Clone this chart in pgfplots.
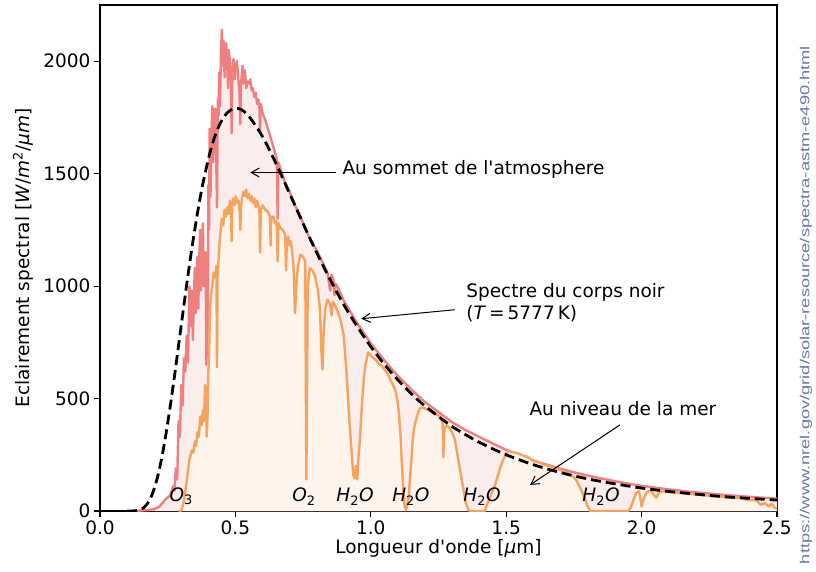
\documentclass[border=0pt]{standalone}
\usepackage{fontspec}
\setmainfont{DejaVu Sans}[Ligatures=TeXOff]
\newfontfamily\urlfont{Liberation Sans}
\usepackage{graphicx}
\usepackage{pgfplots}
\pgfplotsset{compat=1.18}
\usepackage{pgfplotstable}
\usetikzlibrary{arrows.meta}

\definecolor{redline}{HTML}{F08080}
\definecolor{redfill}{HTML}{FCEDED}
\definecolor{orline}{HTML}{F4A460}
\definecolor{orfill}{HTML}{FEF4EB}
\definecolor{urlcol}{HTML}{6478AE}

\pgfplotstableread{
x y
0.120 0
0.150 2
0.180 5
0.200 8
0.220 20
0.240 50
0.250 60
0.260 70
0.270 110
0.275 90
0.280 190
0.285 140
0.290 400
0.295 330
0.300 560
0.305 470
0.310 680
0.315 620
0.320 780
0.325 660
0.330 1000
0.333 820
0.336 950
0.340 980
0.343 760
0.346 900
0.350 1080
0.353 880
0.356 1040
0.360 1130
0.363 900
0.366 1100
0.370 1250
0.373 980
0.376 1150
0.380 1280
0.383 1000
0.386 1150
0.390 1150
0.393 650
0.396 900
0.398 700
0.400 1450
0.403 1250
0.405 1700
0.408 1400
0.410 1550
0.413 1720
0.415 1800
0.418 1550
0.420 1720
0.423 1640
0.425 1790
0.428 1700
0.430 1500
0.432 1350
0.435 1830
0.438 1760
0.440 1950
0.443 1800
0.447 2050
0.450 2140
0.453 1980
0.457 2090
0.460 1930
0.462 2000
0.466 2080
0.470 1980
0.473 1880
0.475 2050
0.480 2000
0.484 1900
0.486 1680
0.489 1950
0.493 2010
0.497 1920
0.500 1960
0.505 2000
0.510 1940
0.515 1860
0.518 1720
0.521 1900
0.526 1980
0.530 1900
0.535 1960
0.540 1880
0.545 1910
0.550 1900
0.555 1920
0.560 1870
0.565 1880
0.570 1840
0.575 1860
0.580 1810
0.585 1830
0.589 1790
0.591 1680
0.594 1810
0.600 1770
0.610 1740
0.620 1700
0.630 1660
0.640 1620
0.650 1580
0.653 1560
0.656 1300
0.659 1550
0.670 1510
0.680 1470
0.700 1420
0.720 1360
0.740 1310
0.760 1250
0.780 1200
0.800 1160
0.820 1110
0.840 1060
0.850 980
0.855 1050
0.862 1030
0.866 960
0.870 1010
0.880 990
0.900 935
0.920 895
0.940 855
0.950 835
0.970 800
1.000 745
1.050 670
1.100 600
1.150 540
1.200 485
1.250 440
1.300 395
1.350 360
1.400 330
1.450 300
1.500 272
1.550 248
1.600 225
1.650 206
1.700 188
1.750 172
1.800 158
1.850 145
1.900 133
1.950 122
2.000 112
2.100 96
2.200 83
2.300 72
2.400 63
2.500 55
}\redtab

\pgfplotstableread{
x y
0.290 0
0.300 3
0.305 20
0.310 45
0.315 90
0.320 130
0.325 180
0.330 230
0.335 250
0.340 270
0.345 260
0.350 310
0.355 290
0.360 350
0.365 330
0.370 420
0.375 380
0.380 450
0.384 400
0.388 560
0.392 520
0.394 330
0.397 420
0.400 620
0.403 700
0.406 900
0.410 960
0.415 1000
0.420 1060
0.425 1040
0.430 1090
0.432 640
0.434 1050
0.438 1120
0.442 1200
0.446 1250
0.450 1300
0.455 1270
0.460 1340
0.465 1310
0.470 1350
0.475 1320
0.480 1380
0.484 1330
0.486 1200
0.488 1350
0.492 1390
0.497 1360
0.502 1400
0.507 1370
0.512 1380
0.516 1330
0.518 1250
0.521 1360
0.526 1400
0.530 1420
0.535 1400
0.540 1430
0.545 1390
0.550 1410
0.555 1380
0.560 1400
0.565 1370
0.570 1390
0.575 1350
0.580 1380
0.585 1360
0.589 1320
0.591 1150
0.594 1340
0.600 1360
0.610 1340
0.620 1330
0.628 1310
0.630 1180
0.632 1300
0.640 1310
0.645 1280
0.650 1290
0.653 1270
0.656 1110
0.659 1280
0.665 1260
0.675 1250
0.684 1230
0.687 1070
0.690 1200
0.695 1220
0.700 1180
0.705 1200
0.710 1150
0.715 1080
0.720 880
0.725 1000
0.730 1080
0.740 1140
0.750 1130
0.758 1110
0.760 600
0.762 140
0.764 450
0.767 1000
0.775 1080
0.785 1070
0.795 1040
0.805 980
0.812 900
0.818 700
0.822 630
0.826 800
0.832 900
0.840 940
0.850 920
0.855 870
0.860 930
0.870 910
0.880 880
0.890 840
0.900 780
0.905 700
0.910 620
0.915 520
0.920 420
0.925 330
0.930 250
0.935 160
0.940 145
0.945 200
0.950 140
0.955 250
0.960 320
0.965 430
0.970 520
0.975 600
0.980 650
0.990 705
1.000 690
1.010 680
1.020 670
1.030 655
1.040 645
1.050 630
1.060 615
1.070 590
1.080 565
1.090 540
1.100 480
1.105 420
1.110 330
1.115 200
1.120 90
1.125 20
1.130 5
1.135 30
1.140 60
1.145 150
1.150 230
1.155 320
1.160 370
1.170 420
1.180 455
1.190 460
1.200 455
1.210 450
1.220 445
1.230 440
1.240 430
1.250 425
1.260 410
1.265 390
1.268 240
1.272 370
1.280 380
1.290 370
1.300 350
1.310 320
1.320 250
1.330 180
1.340 110
1.350 40
1.360 5
1.370 0
1.420 0
1.430 30
1.440 60
1.450 90
1.460 120
1.470 160
1.480 200
1.490 230
1.500 255
1.510 268
1.520 262
1.540 258
1.560 248
1.580 240
1.600 222
1.620 216
1.640 206
1.660 200
1.680 190
1.700 182
1.720 172
1.740 160
1.750 150
1.760 135
1.770 110
1.780 85
1.790 55
1.800 25
1.810 0
1.950 0
1.960 15
1.970 50
1.980 80
1.990 88
1.995 60
2.000 20
2.008 55
2.020 85
2.035 92
2.045 70
2.055 60
2.065 85
2.080 88
2.100 84
2.150 80
2.200 74
2.250 68
2.300 63
2.330 58
2.360 60
2.380 52
2.400 48
2.420 50
2.430 40
2.440 28
2.455 35
2.470 20
2.480 32
2.490 15
2.500 10
}\ortab

\pgfplotstableread{
x y
0.10 0
0.12 0.3
0.13 1
0.14 3
0.15 6.5
0.16 13
0.17 25
0.18 42
0.19 66
0.20 99
0.21 140
0.22 190
0.23 249
0.24 316
0.25 391
0.26 471
0.27 556
0.28 644
0.29 735
0.30 826
0.31 916
0.32 1006
0.33 1091
0.34 1174
0.35 1251
0.36 1325
0.37 1394
0.38 1456
0.40 1564
0.42 1651
0.44 1714
0.46 1757
0.48 1781
0.50 1790
0.52 1786
0.55 1755
0.60 1665
0.65 1545
0.70 1412
0.75 1278
0.80 1149
0.85 1029
0.90 918
0.95 820
1.00 731
1.05 652
1.10 583
1.15 521
1.20 467
1.30 376
1.40 306
1.50 250
1.60 206
1.70 171
1.80 143
1.90 121
2.00 102
2.10 87
2.20 75
2.30 64
2.40 56
2.50 48.5
}\bbtab

\begin{document}
\begin{tikzpicture}[font=\fontsize{18.5}{22}\selectfont]
\path[use as bounding box] (-100pt,-60pt) rectangle (716pt,511pt);
\begin{axis}[
  at={(0pt,0pt)}, anchor=south west,
  scale only axis, width=677pt, height=506pt,
  xmin=0, xmax=2.5, ymin=0, ymax=2250,
  xtick={0,0.5,1,1.5,2,2.5},
  xticklabels={0.0,0.5,1.0,1.5,2.0,2.5},
  ytick={0,500,1000,1500,2000},
  yticklabels={0,500,1000,1500,2000},
  tick pos=left, tick align=outside,
  major tick length=6pt,
  axis line style={line width=1.1pt},
  major tick style={line width=1.1pt, black},
  tick label style={font=\fontsize{18.5}{22}\selectfont},
  /pgf/number format/assume math mode=true,
  xlabel={Longueur d'onde [\textit{μ}m]},
  ylabel={Eclairement spectral [\textit{W}/\textit{m}\textsuperscript{2}/\textit{μm}]},
  xlabel style={at={(axis description cs:0.5,0)}, anchor=center, yshift=-37pt, font=\fontsize{18.5}{22}\selectfont},
  ylabel style={at={(axis description cs:0,0.5)}, anchor=center, yshift=77pt, font=\fontsize{18.5}{22}\selectfont},
]
\addplot[draw=none, fill=redfill] table {\redtab} \closedcycle;
\addplot[color=redline, line width=2.4pt, line join=round] table {\redtab};
\addplot[draw=none, fill=orfill] table {\ortab} \closedcycle;
\addplot[color=orline, line width=2.4pt, line join=round] table {\ortab};
\addplot[black, line width=2.8pt, dash pattern=on 10pt off 5pt, smooth] table {\bbtab};

\node[anchor=west, inner sep=0pt] at (axis cs:0.895,1517) {Au sommet de l'atmosphere};
\draw[-{Straight Barb[length=8pt,width=9pt]}, line width=1pt] (axis cs:0.87,1505) -- (axis cs:0.555,1505);

\node[anchor=west, inner sep=0pt, align=left] at (axis cs:1.352,928) {Spectre du corps noir\\(\textit{T}\,=\,5777\,K)};
\draw[-{Straight Barb[length=8pt,width=9pt]}, line width=1pt] (axis cs:1.31,895) -- (axis cs:0.965,855);

\node[anchor=center, inner sep=0pt] at (axis cs:1.931,455) {Au niveau de la mer};
\draw[-{Straight Barb[length=8pt,width=9pt]}, line width=1pt] (axis cs:1.92,383) -- (axis cs:1.588,116);

\node[inner sep=0pt] at (axis cs:0.30,65) {\textit{O}\textsubscript{3}};
\node[inner sep=0pt] at (axis cs:0.753,65) {\textit{O}\textsubscript{2}};
\node[inner sep=0pt] at (axis cs:0.942,65) {\textit{H}\textsubscript{2}\textit{O}};
\node[inner sep=0pt] at (axis cs:1.148,65) {\textit{H}\textsubscript{2}\textit{O}};
\node[inner sep=0pt] at (axis cs:1.411,65) {\textit{H}\textsubscript{2}\textit{O}};
\node[inner sep=0pt] at (axis cs:1.850,65) {\textit{H}\textsubscript{2}\textit{O}};
\end{axis}
\node[rotate=90, text=urlcol, inner sep=0pt] at (706pt,206pt) {\resizebox{518pt}{9.5pt}{\urlfont https://www.nrel.gov/grid/solar-resource/spectra-astm-e490.html}};
\end{tikzpicture}
\end{document}
